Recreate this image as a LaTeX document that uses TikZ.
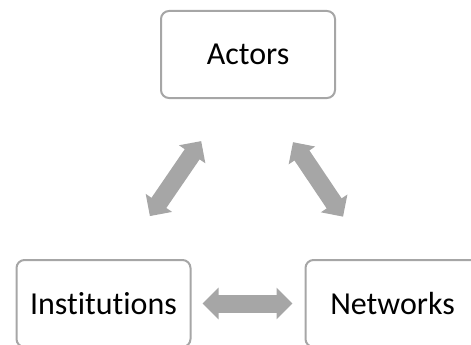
\documentclass[tikz,border=0pt]{standalone}
\usepackage{fontspec}
\setmainfont[Ligatures=NoCommon]{Carlito}
\usetikzlibrary{arrows.meta,positioning}
\definecolor{boxgray}{RGB}{166,166,166}
\definecolor{arrowgray}{RGB}{166,166,166}

\begin{document}
\begin{tikzpicture}[
  x=1pt,y=-1pt,
  box/.style={draw=boxgray,line width=2pt,rounded corners=8pt,
    minimum width=174pt,minimum height=87pt,inner sep=0pt,
    font=\fontsize{32}{38}\selectfont},
  dblarrow/.style={draw=arrowgray,line width=18pt,
    {Triangle[width=31pt,length=16pt]}-{Triangle[width=31pt,length=16pt]}},
  ]
  \useasboundingbox (0,0) rectangle (471,345);

  \node[box] (actors) at (248,54.5) {Actors};
  \node[box] (inst) at (103.5,303.5) {Institutions};
  \node[box] (netw) at (392.5,303.5) {Networks};

  \draw[dblarrow,shorten <=52pt,shorten >=51pt]
    ([xshift=17pt]inst.north) -- ([xshift=-18pt]actors.south);
  \draw[dblarrow,shorten <=52pt,shorten >=51pt]
    ([xshift=16pt]actors.south) -- ([xshift=-21pt]netw.north);
  \draw[dblarrow,shorten <=11pt,shorten >=12pt]
    (inst.east) -- (netw.west);

\end{tikzpicture}
\end{document}
